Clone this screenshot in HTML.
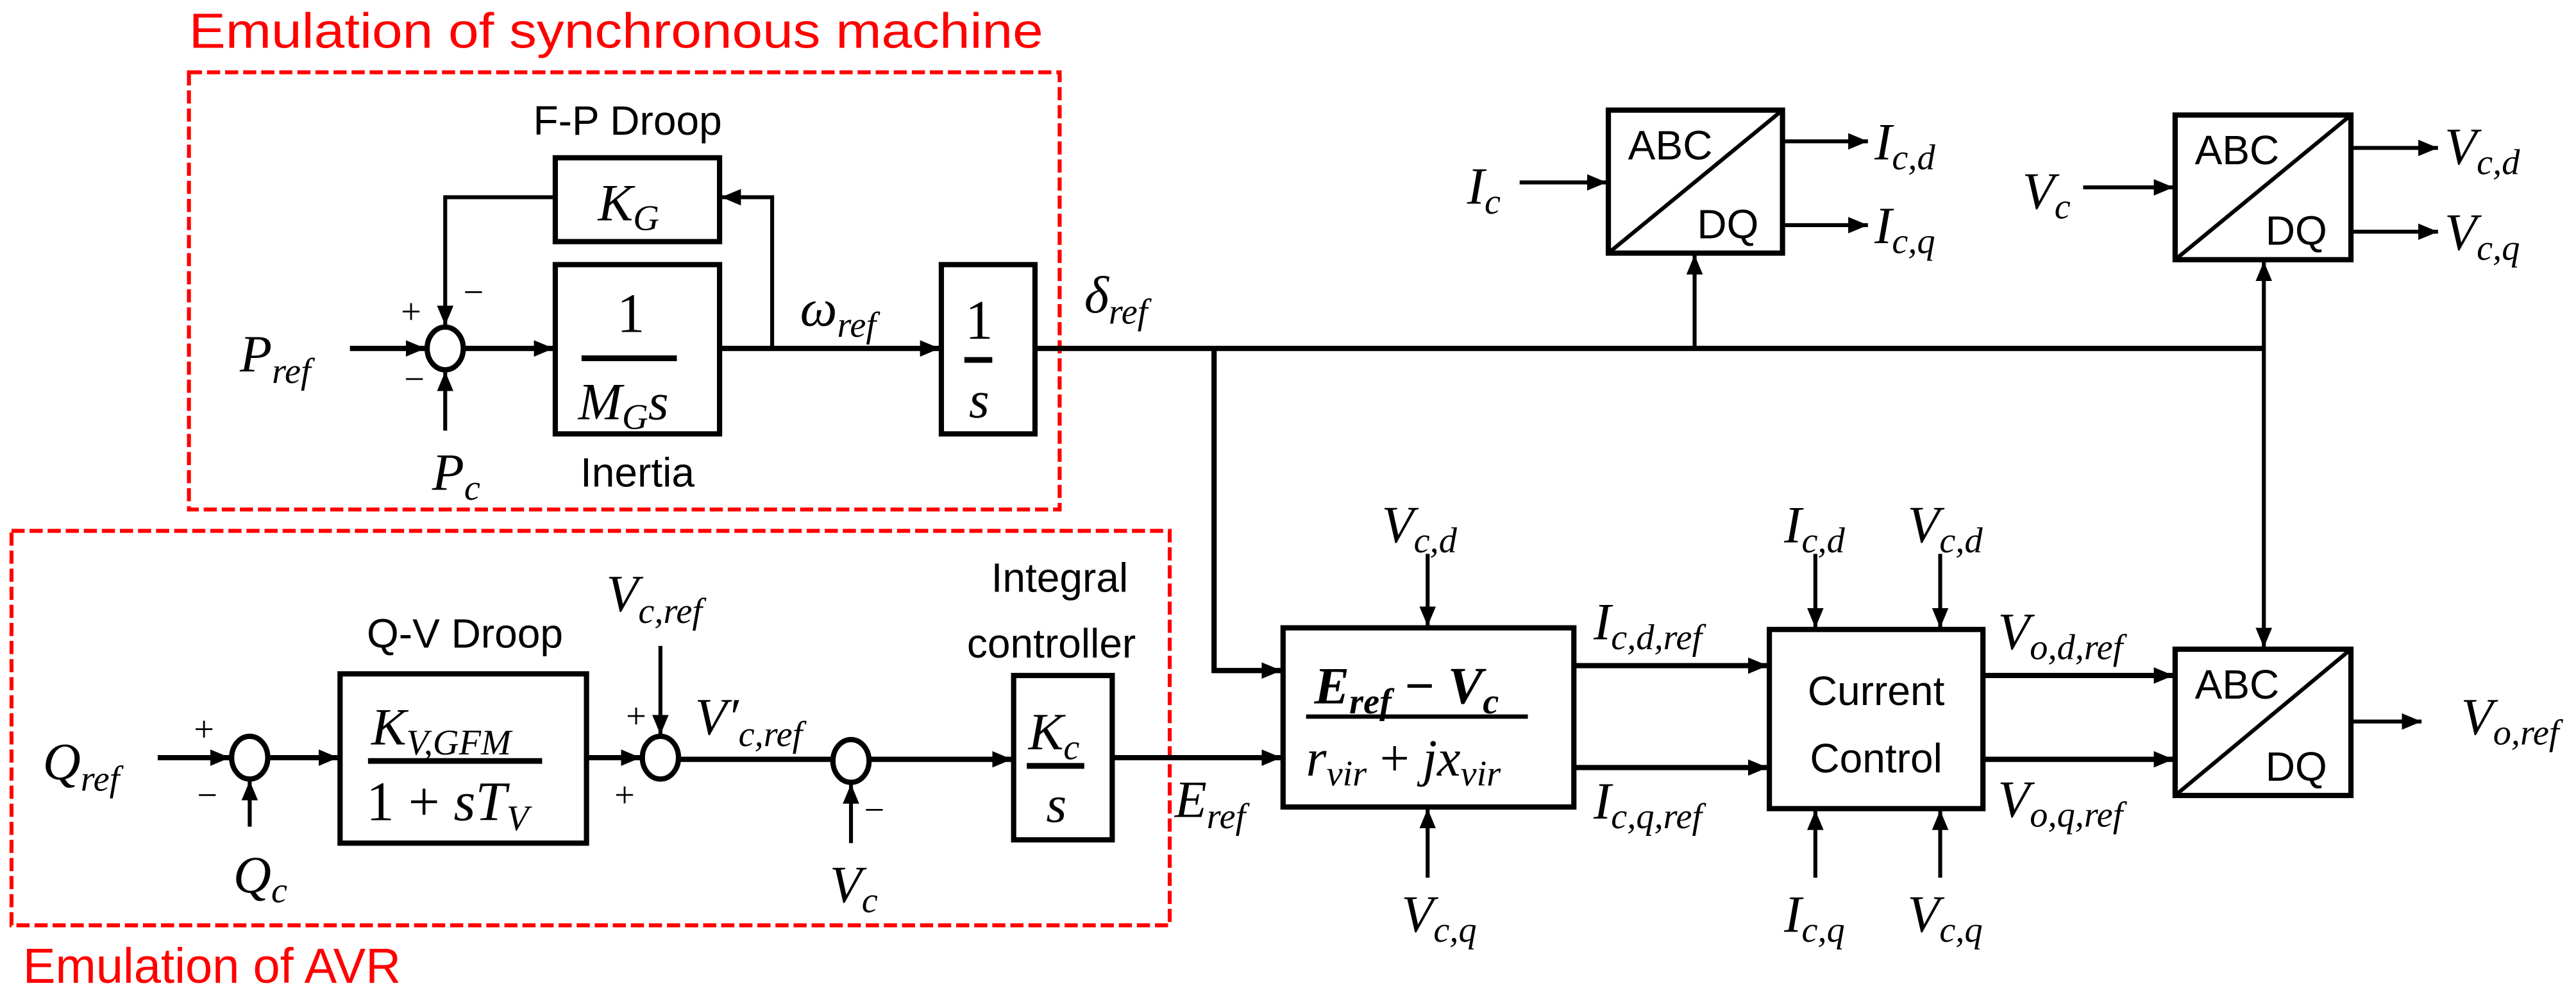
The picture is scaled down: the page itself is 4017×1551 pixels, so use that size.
<!DOCTYPE html>
<html><head><meta charset="utf-8"><style>
html,body{margin:0;padding:0;background:#fff;}
svg{display:block;}
.t{font-family:"Liberation Sans",sans-serif;font-size:25px;fill:#000;}
.r{font-family:"Liberation Sans",sans-serif;font-size:30px;fill:#f00;}
.m{font-family:"Liberation Serif",serif;font-style:italic;font-size:32px;fill:#000;}
.n{font-family:"Liberation Serif",serif;font-size:34px;fill:#000;}
.s{font-size:22px;}
.pm{font-family:"Liberation Serif",serif;font-size:22px;fill:#000;}
</style></head><body>
<svg width="4017" height="1551" viewBox="0 0 1568 605.4" preserveAspectRatio="none" xmlns="http://www.w3.org/2000/svg">
<defs>
<marker id="a" markerUnits="userSpaceOnUse" markerWidth="12" markerHeight="10" refX="12" refY="5" orient="auto"><path d="M0,0 L12,5 L0,10 z" fill="#000"/></marker>
</defs>
<rect width="1568" height="605.4" fill="#fff"/>
<g fill="none" stroke="#f00" stroke-width="2.4" stroke-dasharray="8,3">
<rect x="115" y="44" width="530" height="266"/>
<rect x="7" y="323" width="705" height="240"/>
</g>
<text class="r" x="115" y="29" textLength="520" lengthAdjust="spacingAndGlyphs">Emulation of synchronous machine</text>
<text class="r" x="14" y="598" textLength="230" lengthAdjust="spacingAndGlyphs">Emulation of AVR</text>

<g fill="none" stroke="#000" stroke-width="3.2">
<rect x="338" y="96" width="100" height="51"/>
<rect x="338" y="161" width="100" height="103"/>
<rect x="573" y="161" width="57" height="103"/>
<ellipse cx="271" cy="212" rx="11" ry="13"/>
<rect x="207" y="410" width="150" height="103"/>
<rect x="617" y="411" width="60" height="100"/>
<ellipse cx="152" cy="461" rx="11" ry="13"/>
<ellipse cx="402" cy="461" rx="11" ry="13"/>
<ellipse cx="518" cy="463" rx="11" ry="13"/>
<rect x="979" y="67" width="106" height="87"/>
<rect x="1324" y="70" width="107" height="88"/>
<rect x="1324" y="395" width="107" height="89"/>
<rect x="781" y="382" width="177" height="109"/>
<rect x="1077" y="383" width="130" height="109"/>
</g>
<g stroke="#000" stroke-width="2.4">
<line x1="979" y1="154" x2="1085" y2="67"/>
<line x1="1324" y1="158" x2="1431" y2="70"/>
<line x1="1324" y1="484" x2="1431" y2="395"/>
</g>

<g stroke="#000" stroke-width="3.2" fill="none">
<line x1="213" y1="212" x2="259" y2="212" marker-end="url(#a)"/>
<polyline points="338,120 271,120 271,198" stroke-width="2.4" marker-end="url(#a)"/>
<line x1="271" y1="262" x2="271" y2="226" stroke-width="2.4" marker-end="url(#a)"/>
<line x1="283" y1="212" x2="337" y2="212" marker-end="url(#a)"/>
<line x1="438" y1="212" x2="572" y2="212" marker-end="url(#a)"/>
<polyline points="470,212 470,120 439,120" stroke-width="2.4" marker-end="url(#a)"/>
<line x1="630" y1="212" x2="1378" y2="212"/>
<polyline points="739,212 739,408 780,408" marker-end="url(#a)"/>
<line x1="1031.5" y1="212" x2="1031.5" y2="155" stroke-width="2.4" marker-end="url(#a)"/>
<line x1="1378" y1="212" x2="1378" y2="159" stroke-width="2.4" marker-end="url(#a)"/>
<line x1="1378" y1="212" x2="1378" y2="394" stroke-width="2.4" marker-end="url(#a)"/>
<line x1="925" y1="111" x2="978" y2="111" stroke-width="2.4" marker-end="url(#a)"/>
<line x1="1085" y1="86" x2="1137" y2="86" stroke-width="2.4" marker-end="url(#a)"/>
<line x1="1085" y1="137" x2="1137" y2="137" stroke-width="2.4" marker-end="url(#a)"/>
<line x1="1268" y1="114" x2="1323" y2="114" stroke-width="2.4" marker-end="url(#a)"/>
<line x1="1431" y1="90" x2="1484" y2="90" stroke-width="2.4" marker-end="url(#a)"/>
<line x1="1431" y1="141" x2="1484" y2="141" stroke-width="2.4" marker-end="url(#a)"/>
<line x1="96" y1="461" x2="140" y2="461" marker-end="url(#a)"/>
<line x1="152" y1="503" x2="152" y2="475" stroke-width="2.4" marker-end="url(#a)"/>
<line x1="163" y1="461" x2="206" y2="461" marker-end="url(#a)"/>
<line x1="357" y1="461" x2="390" y2="461" marker-end="url(#a)"/>
<line x1="402" y1="393" x2="402" y2="447" stroke-width="2.4" marker-end="url(#a)"/>
<line x1="413" y1="462" x2="507" y2="462"/>
<line x1="518" y1="513" x2="518" y2="477" stroke-width="2.4" marker-end="url(#a)"/>
<line x1="529" y1="462" x2="616" y2="462" marker-end="url(#a)"/>
<line x1="677" y1="461" x2="780" y2="461" marker-end="url(#a)"/>
<line x1="869" y1="337" x2="869" y2="381" stroke-width="2.4" marker-end="url(#a)"/>
<line x1="869" y1="534" x2="869" y2="492" stroke-width="2.4" marker-end="url(#a)"/>
<line x1="958" y1="405" x2="1076" y2="405" marker-end="url(#a)"/>
<line x1="958" y1="467" x2="1076" y2="467" marker-end="url(#a)"/>
<line x1="1105" y1="337" x2="1105" y2="382" stroke-width="2.4" marker-end="url(#a)"/>
<line x1="1181" y1="337" x2="1181" y2="382" stroke-width="2.4" marker-end="url(#a)"/>
<line x1="1105" y1="534" x2="1105" y2="493" stroke-width="2.4" marker-end="url(#a)"/>
<line x1="1181" y1="534" x2="1181" y2="493" stroke-width="2.4" marker-end="url(#a)"/>
<line x1="1207" y1="411" x2="1323" y2="411" marker-end="url(#a)"/>
<line x1="1207" y1="462" x2="1323" y2="462" marker-end="url(#a)"/>
<line x1="1431" y1="439" x2="1474" y2="439" stroke-width="2.4" marker-end="url(#a)"/>
<line x1="354" y1="218" x2="412" y2="218" stroke-width="3.5"/>
<line x1="587" y1="219" x2="604" y2="219" stroke-width="3.5"/>
<line x1="224" y1="463" x2="330" y2="463" stroke-width="3.5"/>
<line x1="625" y1="466" x2="660" y2="466" stroke-width="3.5"/>
<line x1="795" y1="436" x2="930" y2="436" stroke-width="2.6"/>
</g>

<text class="t" x="382" y="82" text-anchor="middle">F-P Droop</text>
<text class="m" x="364" y="134">K<tspan class="s" dy="6">G</tspan></text>
<text class="n" x="384" y="202" text-anchor="middle">1</text>
<text class="m" x="352" y="255">M<tspan class="s" dy="6">G</tspan><tspan dy="-6">s</tspan></text>
<text class="t" x="388" y="296" text-anchor="middle">Inertia</text>
<text class="m" x="146" y="226">P<tspan class="s" dy="7">ref</tspan></text>
<text class="m" x="263" y="298">P<tspan class="s" dy="6">c</tspan></text>
<text class="pm" x="244" y="197">+</text>
<text class="pm" x="282" y="185">−</text>
<text class="pm" x="246" y="238">−</text>
<text class="m" x="487" y="198">ω<tspan class="s" dy="7">ref</tspan></text>
<text class="n" x="596" y="206" text-anchor="middle">1</text>
<text class="m" x="596" y="254" text-anchor="middle">s</text>
<text class="m" x="660" y="190">δ<tspan class="s" dy="7">ref</tspan></text>
<text class="t" x="991" y="97">ABC</text><text class="t" x="1033" y="145">DQ</text>
<text class="t" x="1336" y="100">ABC</text><text class="t" x="1379" y="149">DQ</text>
<text class="t" x="1336" y="425">ABC</text><text class="t" x="1379" y="475">DQ</text>
<text class="m" x="893" y="124">I<tspan class="s" dy="6">c</tspan></text>
<text class="m" x="1141" y="97">I<tspan class="s" dy="6">c,d</tspan></text>
<text class="m" x="1141" y="148">I<tspan class="s" dy="6">c,q</tspan></text>
<text class="m" x="1231" y="127">V<tspan class="s" dy="6">c</tspan></text>
<text class="m" x="1488" y="100">V<tspan class="s" dy="6">c,d</tspan></text>
<text class="m" x="1488" y="152">V<tspan class="s" dy="6">c,q</tspan></text>
<text class="t" x="283" y="394" text-anchor="middle">Q-V Droop</text>
<text class="m" x="26" y="474">Q<tspan class="s" dy="7">ref</tspan></text>
<text class="pm" x="118" y="451">+</text>
<text class="pm" x="120" y="491">−</text>
<text class="m" x="142" y="543">Q<tspan class="s" dy="6">c</tspan></text>
<text class="m" x="226" y="453">K<tspan class="s" dy="6">V,GFM</tspan></text>
<text class="n" x="223" y="499" font-size="32">1 + <tspan font-style="italic">sT</tspan><tspan class="s" dy="6" font-style="italic">V</tspan></text>
<text class="m" x="369" y="372">V<tspan class="s" dy="7">c,ref</tspan></text>
<text class="pm" x="381" y="443">+</text>
<text class="pm" x="374" y="491">+</text>
<text class="m" x="423" y="447">V′<tspan class="s" dy="7">c,ref</tspan></text>
<text class="pm" x="526" y="500">−</text>
<text class="m" x="505" y="549">V<tspan class="s" dy="6">c</tspan></text>
<text class="t" x="645" y="360" text-anchor="middle">Integral</text>
<text class="t" x="640" y="400" text-anchor="middle">controller</text>
<text class="m" x="626" y="456">K<tspan class="s" dy="6">c</tspan></text>
<text class="m" x="643" y="500" text-anchor="middle">s</text>
<text class="m" x="715" y="497">E<tspan class="s" dy="7">ref</tspan></text>
<text class="m" x="841" y="330">V<tspan class="s" dy="6">c,d</tspan></text>
<text class="m" x="853" y="567">V<tspan class="s" dy="6">c,q</tspan></text>
<text class="m" x="800" y="428" font-weight="bold">E<tspan class="s" dy="6">ref</tspan><tspan dy="-6" font-style="normal"> − </tspan>V<tspan class="s" dy="6">c</tspan></text>
<text class="m" x="795" y="472">r<tspan class="s" dy="6">vir</tspan><tspan dy="-6" font-style="normal"> + </tspan>jx<tspan class="s" dy="6">vir</tspan></text>
<text class="m" x="970" y="389">I<tspan class="s" dy="6">c,d,ref</tspan></text>
<text class="m" x="970" y="498">I<tspan class="s" dy="6">c,q,ref</tspan></text>
<text class="t" x="1142" y="429" text-anchor="middle" font-size="28">Current</text>
<text class="t" x="1142" y="470" text-anchor="middle" font-size="28">Control</text>
<text class="m" x="1086" y="330">I<tspan class="s" dy="6">c,d</tspan></text>
<text class="m" x="1161" y="330">V<tspan class="s" dy="6">c,d</tspan></text>
<text class="m" x="1086" y="567">I<tspan class="s" dy="6">c,q</tspan></text>
<text class="m" x="1161" y="567">V<tspan class="s" dy="6">c,q</tspan></text>
<text class="m" x="1216" y="395">V<tspan class="s" dy="6">o,d,ref</tspan></text>
<text class="m" x="1216" y="497">V<tspan class="s" dy="6">o,q,ref</tspan></text>
<text class="m" x="1498" y="447">V<tspan class="s" dy="6">o,ref</tspan></text>
</svg>
</body></html>
